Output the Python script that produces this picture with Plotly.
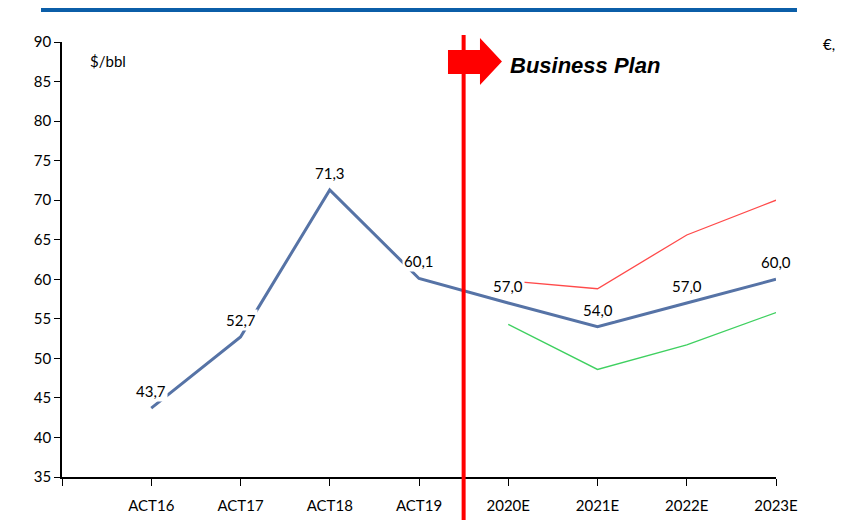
"""Brent price scenario: actuals and business plan."""

import plotly.graph_objects as go

categories = ["ACT16", "ACT17", "ACT18", "ACT19", "2020E", "2021E", "2022E", "2023E"]
base_case = [43.7, 52.7, 71.3, 60.1, 57.0, 54.0, 57.0, 60.0]
high_case = [None, None, None, None, 59.8, 58.8, 65.6, 70.0]
low_case = [None, None, None, None, 54.3, 48.6, 51.7, 55.8]

x_pos = list(range(1, len(categories) + 1))

fig = go.Figure()
fig.add_trace(
    go.Scatter(x=x_pos, y=high_case, mode="lines", line=dict(color="#ff4a4a", width=1.3))
)
fig.add_trace(
    go.Scatter(x=x_pos, y=low_case, mode="lines", line=dict(color="#3fd060", width=1.3))
)
fig.add_trace(
    go.Scatter(x=x_pos, y=base_case, mode="lines", line=dict(color="#5673a6", width=3))
)

# data labels with white box, sitting above the base-case points
for x, v in zip(x_pos, base_case):
    fig.add_annotation(
        x=x,
        y=v,
        text=f"{v:.1f}".replace(".", ","),
        showarrow=False,
        yshift=17,
        bgcolor="white",
        borderpad=1,
        font=dict(size=15, color="black"),
    )

label_font = dict(family="Lato, Noto Sans, sans-serif", size=15, color="black")
fig.add_annotation(
    x=0.0644, y=0.956, xref="paper", yref="paper", text="$/bbl",
    xanchor="center", yanchor="middle", showarrow=False, font=label_font,
)
fig.add_annotation(
    x=1.0742, y=0.995, xref="paper", yref="paper", text="€,",
    xanchor="center", yanchor="middle", showarrow=False, font=label_font,
)
fig.add_annotation(
    x=0.6246, y=0.947, xref="paper", yref="paper",
    xanchor="left", yanchor="middle",
    text="<b><i>Business Plan</i></b>", showarrow=False,
    font=dict(family="Liberation Sans, Arial", size=22, color="black"),
)

# top rule
fig.add_shape(
    type="line", xref="paper", yref="paper",
    x0=-0.0294, x1=1.0294, y0=1.0736, y1=1.0736,
    line=dict(color="#0b5ea8", width=4),
)
# arrow
fig.add_shape(
    type="path", xref="paper", yref="paper",
    path="M 0.5406 0.9816 L 0.5854 0.9816 L 0.5854 1.0092 L 0.6162 0.9552 "
    "L 0.5854 0.9011 L 0.5854 0.9264 L 0.5406 0.9264 Z",
    fillcolor="#ff0000", line=dict(width=0),
)
# divider between actuals and plan (x = 4.5 on a 0..8 range)
fig.add_shape(
    type="line", xref="paper", yref="paper",
    x0=4.5 / 8, x1=4.5 / 8, y0=1.016, y1=-0.1,
    line=dict(color="#ff0000", width=4),
)

# page body adds an 8px offset, so margins are trimmed on the left/top
fig.update_layout(
    width=851,
    height=520,
    margin=dict(l=54, r=83, t=34, b=51),
    paper_bgcolor="white",
    plot_bgcolor="white",
    showlegend=False,
    font=dict(family="Lato, Noto Sans, sans-serif", size=14, color="black"),
)
fig.update_xaxes(
    range=[0, len(categories)],
    tickvals=[0] + x_pos,
    ticktext=[""] + categories,
    showgrid=False,
    zeroline=False,
    showline=True,
    linecolor="black",
    linewidth=1.5,
    ticks="outside",
    ticklen=7,
    tickcolor="black",
    ticklabelstandoff=7,
    tickfont=dict(size=15),
    automargin=False,
)
fig.update_yaxes(
    range=[35, 90],
    dtick=5,
    showgrid=False,
    zeroline=False,
    showline=True,
    linecolor="black",
    linewidth=1.5,
    ticks="outside",
    ticklen=6,
    tickcolor="black",
    tickfont=dict(size=15),
    automargin=False,
)

fig.write_html("out.html")
